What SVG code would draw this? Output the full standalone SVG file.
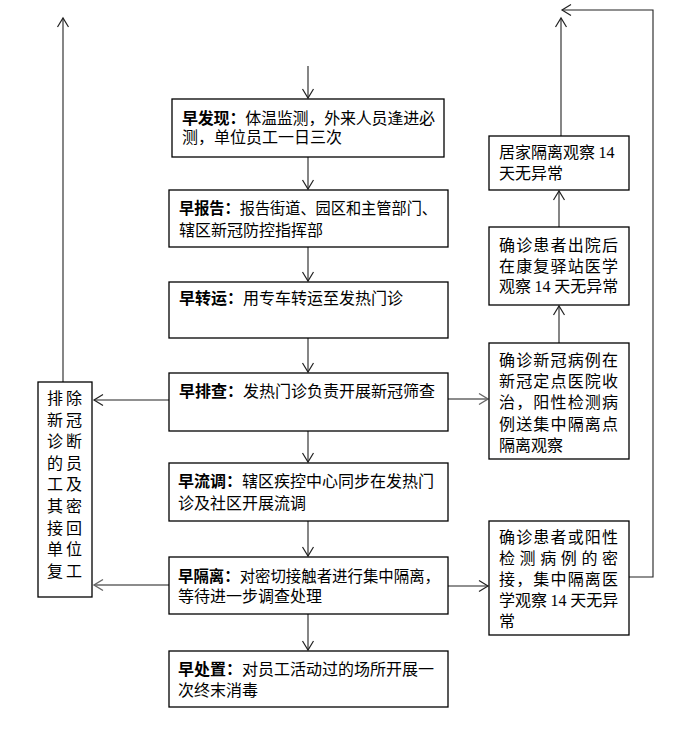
<svg xmlns="http://www.w3.org/2000/svg" width="680" height="729" viewBox="0 0 680 729">
<style>
.box{fill:#fff;stroke:#000;stroke-width:1.3}
.t{font-family:"Noto Sans CJK SC","Liberation Sans",sans-serif;font-size:16px;fill:#000}
.b{font-weight:bold}
.r{font-family:"Noto Sans CJK SC","Liberation Serif",serif;font-size:16px;fill:#000}
.n{font-family:"Liberation Serif",serif}
.c{fill:none;stroke:#222;stroke-width:1.1}
.g{fill:none;stroke:#666;stroke-width:1.6}
</style>
<defs>
<marker id="ah" markerUnits="userSpaceOnUse" markerWidth="14" markerHeight="14" viewBox="-12 -7 14 14" refX="0" refY="0" orient="auto">
<path d="M-9,-5.5 L0,0 L-9,5.5" fill="none" stroke="#222" stroke-width="1.2"/>
</marker>
<marker id="ahg" markerUnits="userSpaceOnUse" markerWidth="14" markerHeight="14" viewBox="-12 -7 14 14" refX="0" refY="0" orient="auto">
<path d="M-9,-5.5 L0,0 L-9,5.5" fill="none" stroke="#666" stroke-width="1.4"/>
</marker>
</defs>

<g id="connectors">
<line class="c" x1="308" y1="66" x2="308" y2="98" marker-end="url(#ah)"/>
<line class="c" x1="308" y1="157" x2="308" y2="189" marker-end="url(#ah)"/>
<line class="c" x1="308" y1="247" x2="308" y2="281" marker-end="url(#ah)"/>
<line class="c" x1="308" y1="338" x2="308" y2="372" marker-end="url(#ah)"/>
<line class="c" x1="308" y1="431" x2="308" y2="462" marker-end="url(#ah)"/>
<line class="c" x1="308" y1="521" x2="308" y2="556" marker-end="url(#ah)"/>
<line class="c" x1="308" y1="614" x2="308" y2="650" marker-end="url(#ah)"/>
<line class="c" x1="169" y1="400" x2="94" y2="400" marker-end="url(#ah)"/>
<line class="g" x1="169" y1="585" x2="94" y2="585" marker-end="url(#ahg)"/>
<line class="g" x1="448" y1="399" x2="488" y2="399" marker-end="url(#ahg)"/>
<line class="c" x1="448" y1="586" x2="488" y2="586" marker-end="url(#ah)"/>
<line class="c" x1="63" y1="382" x2="63" y2="18" marker-end="url(#ah)"/>
<line class="c" x1="559" y1="343" x2="559" y2="306" marker-end="url(#ah)"/>
<line class="c" x1="559" y1="227" x2="559" y2="191" marker-end="url(#ah)"/>
<line class="c" x1="561" y1="136" x2="561" y2="18" marker-end="url(#ah)"/>
<polyline class="c" points="629,577 653,577 653,10 562,10" marker-end="url(#ah)"/>
</g>

<g id="n1">
<rect class="box" x="172" y="99" width="272" height="58"/>
<text class="t" x="182" y="124" textLength="253" lengthAdjust="spacing"><tspan class="b">早发现：</tspan>体温监测，外来人员逢进必</text>
<text class="t" x="182" y="143">测，单位员工一日三次</text>
</g>
<g id="n2">
<rect class="box" x="169" y="190" width="279" height="57"/>
<text class="t" x="179" y="214" textLength="258" lengthAdjust="spacingAndGlyphs"><tspan class="b">早报告：</tspan>报告街道、园区和主管部门、</text>
<text class="t" x="179" y="236">辖区新冠防控指挥部</text>
</g>
<g id="n3">
<rect class="box" x="169" y="282" width="279" height="56"/>
<text class="t" x="179" y="304"><tspan class="b">早转运：</tspan>用专车转运至发热门诊</text>
</g>
<g id="n4">
<rect class="box" x="169" y="373" width="279" height="58"/>
<text class="t" x="179" y="397"><tspan class="b">早排查：</tspan>发热门诊负责开展新冠筛查</text>
</g>
<g id="n5">
<rect class="box" x="169" y="463" width="279" height="58"/>
<text class="t" x="178" y="487"><tspan class="b">早流调：</tspan>辖区疾控中心同步在发热门</text>
<text class="t" x="178" y="509">诊及社区开展流调</text>
</g>
<g id="n6">
<rect class="box" x="169" y="557" width="279" height="57"/>
<text class="t" x="178" y="582" textLength="262" lengthAdjust="spacingAndGlyphs"><tspan class="b">早隔离：</tspan>对密切接触者进行集中隔离，</text>
<text class="t" x="178" y="602">等待进一步调查处理</text>
</g>
<g id="n7">
<rect class="box" x="169" y="651" width="279" height="56"/>
<text class="t" x="178" y="675"><tspan class="b">早处置：</tspan>对员工活动过的场所开展一</text>
<text class="t" x="178" y="696">次终末消毒</text>
</g>

<g id="left">
<rect class="box" x="38" y="382" width="54" height="215"/>
<text class="t" x="47" y="404" letter-spacing="3">排除</text>
<text class="t" x="47" y="426" letter-spacing="3">新冠</text>
<text class="t" x="47" y="447" letter-spacing="3">诊断</text>
<text class="t" x="47" y="469" letter-spacing="3">的员</text>
<text class="t" x="47" y="490" letter-spacing="3">工及</text>
<text class="t" x="47" y="512" letter-spacing="3">其密</text>
<text class="t" x="47" y="534" letter-spacing="3">接回</text>
<text class="t" x="47" y="555" letter-spacing="3">单位</text>
<text class="t" x="47" y="577" letter-spacing="3">复工</text>
</g>

<g id="r1">
<rect class="box" x="489" y="136" width="140" height="54"/>
<text class="r" x="499" y="158">居家隔离观察 <tspan class="n">14</tspan></text>
<text class="r" x="499" y="179">天无异常</text>
</g>
<g id="r2">
<rect class="box" x="489" y="227" width="140" height="78"/>
<text class="r" x="499" y="251" textLength="119" lengthAdjust="spacing">确诊患者出院后</text>
<text class="r" x="499" y="272" textLength="119" lengthAdjust="spacing">在康复驿站医学</text>
<text class="r" x="499" y="292">观察 <tspan class="n">14</tspan> 天无异常</text>
</g>
<g id="r3">
<rect class="box" x="489" y="343" width="140" height="116"/>
<text class="r" x="499" y="366" textLength="119" lengthAdjust="spacing">确诊新冠病例在</text>
<text class="r" x="499" y="387" textLength="119" lengthAdjust="spacing">新冠定点医院收</text>
<text class="r" x="499" y="408" textLength="119" lengthAdjust="spacing">治，阳性检测病</text>
<text class="r" x="499" y="430" textLength="119" lengthAdjust="spacing">例送集中隔离点</text>
<text class="r" x="499" y="451">隔离观察</text>
</g>
<g id="r4">
<rect class="box" x="489" y="521" width="140" height="114"/>
<text class="r" x="499" y="543" textLength="119" lengthAdjust="spacing">确诊患者或阳性</text>
<text class="r" x="499" y="564" textLength="119" lengthAdjust="spacing">检测病例的密</text>
<text class="r" x="499" y="585" textLength="119" lengthAdjust="spacing">接，集中隔离医</text>
<text class="r" x="499" y="606">学观察 <tspan class="n">14</tspan> 天无异</text>
<text class="r" x="499" y="627">常</text>
</g>
</svg>
